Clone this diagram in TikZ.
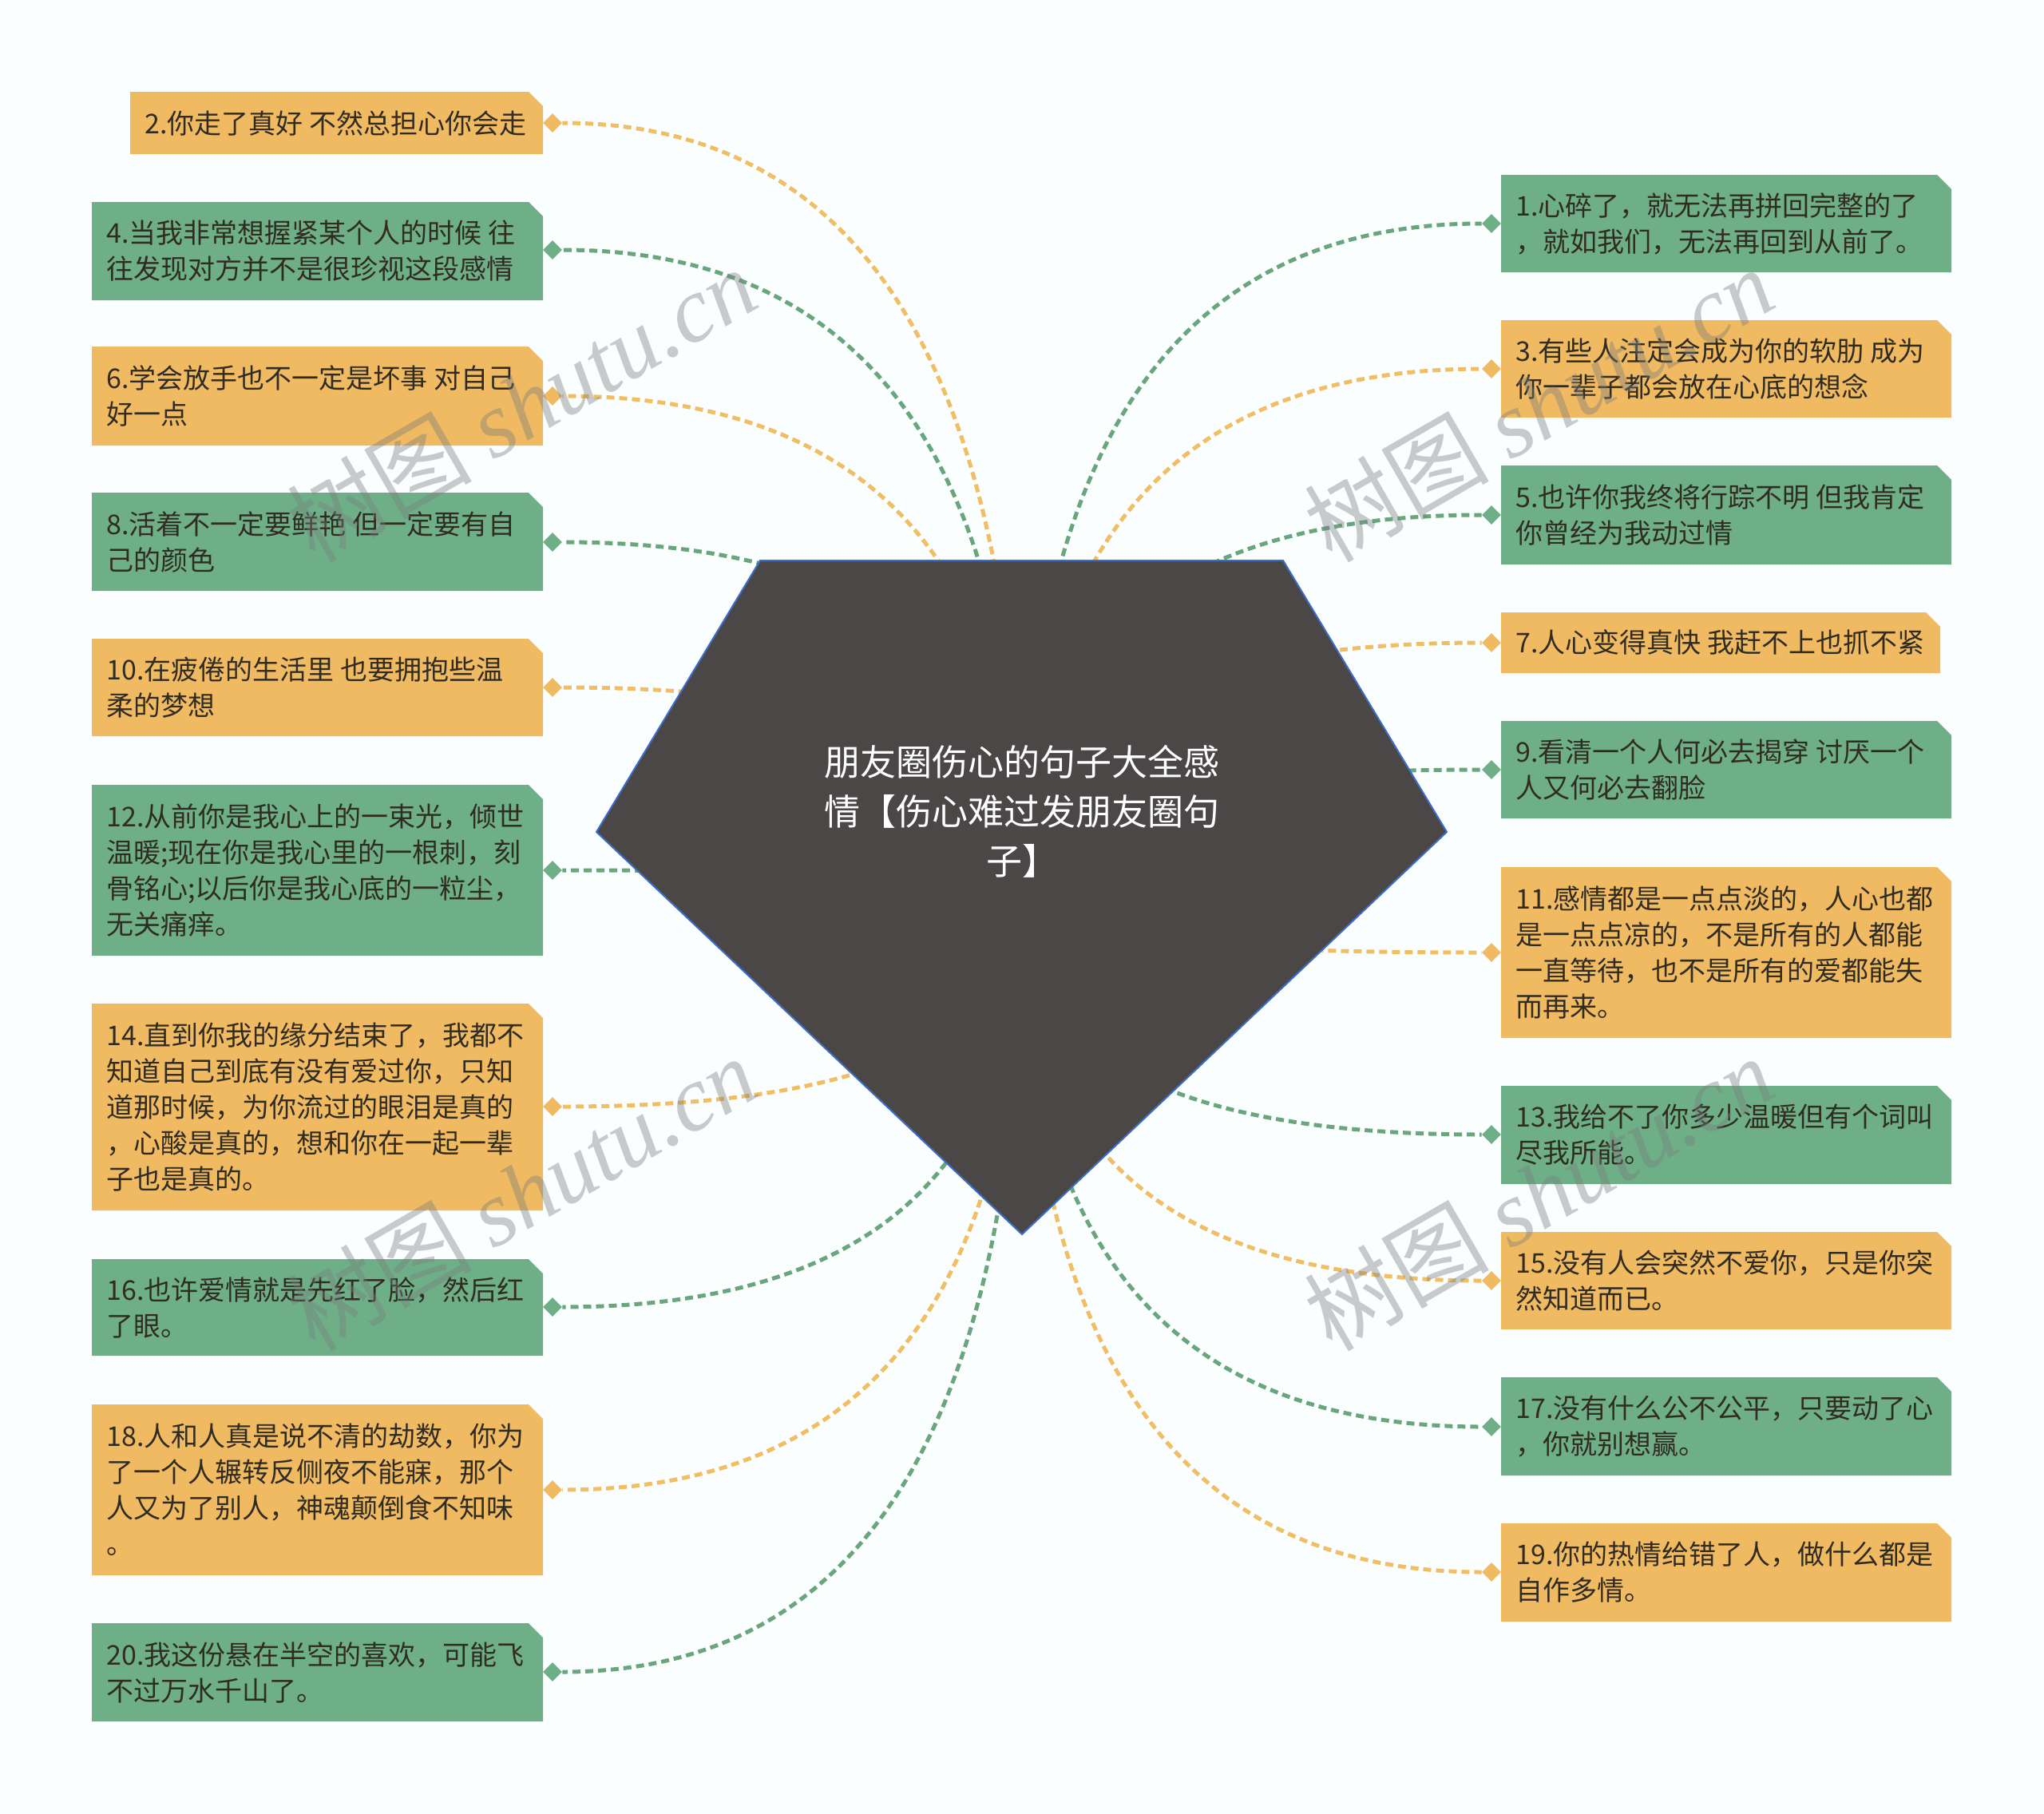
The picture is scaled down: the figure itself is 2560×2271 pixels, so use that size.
\documentclass[tikz,border=0pt]{standalone}
\usepackage{fontspec}
\setmainfont{Noto Sans CJK SC}
\newfontfamily\wmlatin{Liberation Serif}
\newfontfamily\wmcjk{Noto Sans CJK SC}
\usetikzlibrary{shapes.geometric,calc}
\definecolor{bg}{RGB}{250,254,254}
\definecolor{orangebox}{RGB}{240,186,98}
\definecolor{greenbox}{RGB}{110,175,135}
\definecolor{orangeline}{RGB}{240,190,100}
\definecolor{greenline}{RGB}{105,165,125}
\definecolor{hubfill}{RGB}{75,71,71}
\definecolor{hubline}{RGB}{60,110,200}
\definecolor{txt}{RGB}{48,44,34}
\definecolor{wm}{RGB}{120,125,125}
\tikzset{
 boxtext/.style={inner sep=0pt, align=left, text=txt, font=\fontsize{17pt}{22.5pt}\selectfont, anchor=west},
 dmd/.style={diamond, shape aspect=1, inner sep=0pt, minimum width=12pt, minimum height=12pt},
 conn/.style={line width=2.5pt, dash pattern=on 5pt off 3pt},
 wmark/.style={rotate=30, text=wm, opacity=0.4, font=\fontsize{58pt}{58pt}\selectfont},
}
% #1 name, #2 x1, #3 y1, #4 x2, #5 y2, #6 colour, #7 text
\newcommand\qbox[7]{%
  \fill[#6] (#2,#3) -- ({#4-18},#3) -- (#4,{#3+18}) -- (#4,#5) -- (#2,#5) -- cycle;
  \node[boxtext] (#1) at ({#2+18},{(#3+#5)/2}) {#7};
}
\newcommand\conL[2]{\draw[conn,#2] (hub) .. controls ($(hub)!0.6667!(hub|-#1)$) and ($(#1.east)!0.6667!(hub|-#1)$) .. (#1.east);}
\newcommand\conR[2]{\draw[conn,#2] (hub) .. controls ($(hub)!0.6667!(hub|-#1)$) and ($(#1.west)!0.6667!(hub|-#1)$) .. (#1.west);}
\begin{document}
\begin{tikzpicture}[x=0.5pt,y=-0.5pt]
\useasboundingbox (0,0) rectangle (2560,2271);
\fill[bg] (0,0) rectangle (2560,2271);
\coordinate (hub) at (1280,1124);

% diamonds left
\node[dmd,fill=orangebox] (d2) at (692,154) {};
\node[dmd,fill=greenbox] (d4) at (692,313) {};
\node[dmd,fill=orangebox] (d6) at (692,496) {};
\node[dmd,fill=greenbox] (d8) at (692,679) {};
\node[dmd,fill=orangebox] (d10) at (692,861) {};
\node[dmd,fill=greenbox] (d12) at (692,1090) {};
\node[dmd,fill=orangebox] (d14) at (692,1386) {};
\node[dmd,fill=greenbox] (d16) at (692,1637) {};
\node[dmd,fill=orangebox] (d18) at (692,1866) {};
\node[dmd,fill=greenbox] (d20) at (692,2094) {};
% diamonds right
\node[dmd,fill=greenbox] (d1) at (1868,280) {};
\node[dmd,fill=orangebox] (d3) at (1868,462) {};
\node[dmd,fill=greenbox] (d5) at (1868,645) {};
\node[dmd,fill=orangebox] (d7) at (1868,805) {};
\node[dmd,fill=greenbox] (d9) at (1868,964) {};
\node[dmd,fill=orangebox] (d11) at (1868,1193) {};
\node[dmd,fill=greenbox] (d13) at (1868,1421) {};
\node[dmd,fill=orangebox] (d15) at (1868,1604) {};
\node[dmd,fill=greenbox] (d17) at (1868,1787) {};
\node[dmd,fill=orangebox] (d19) at (1868,1969) {};

% connectors
\conL{d2}{orangeline}
\conL{d4}{greenline}
\conL{d6}{orangeline}
\conL{d8}{greenline}
\conL{d10}{orangeline}
\conL{d12}{greenline}
\conL{d14}{orangeline}
\conL{d16}{greenline}
\conL{d18}{orangeline}
\conL{d20}{greenline}
\conR{d1}{greenline}
\conR{d3}{orangeline}
\conR{d5}{greenline}
\conR{d7}{orangeline}
\conR{d9}{greenline}
\conR{d11}{orangeline}
\conR{d13}{greenline}
\conR{d15}{orangeline}
\conR{d17}{greenline}
\conR{d19}{orangeline}

% central pentagon
\filldraw[fill=hubfill, draw=hubline, line width=1pt] (952,702) -- (1607,702) -- (1812,1042) -- (1280,1546) -- (747,1042) -- cycle;
\node[text=white, align=center, inner sep=0pt, font=\fontsize{22.5pt}{31pt}\selectfont] (title) at (1280,1016) {朋友圈伤心的句子大全感\\情【伤心难过发朋友圈句\\子】};

% left boxes
\qbox{b2}{163}{115}{680}{193}{orangebox}{2.你走了真好 不然总担心你会走}
\qbox{b4}{115}{253}{680}{376}{greenbox}{4.当我非常想握紧某个人的时候 往\\往发现对方并不是很珍视这段感情}
\qbox{b6}{115}{434}{680}{558}{orangebox}{6.学会放手也不一定是坏事 对自己\\好一点}
\qbox{b8}{115}{617}{680}{740}{greenbox}{8.活着不一定要鲜艳 但一定要有自\\己的颜色}
\qbox{b10}{115}{800}{680}{922}{orangebox}{10.在疲倦的生活里 也要拥抱些温\\柔的梦想}
\qbox{b12}{115}{983}{680}{1197}{greenbox}{12.从前你是我心上的一束光，倾世\\温暖;现在你是我心里的一根刺，刻\\骨铭心;以后你是我心底的一粒尘，\\无关痛痒。}
\qbox{b14}{115}{1257}{680}{1516}{orangebox}{14.直到你我的缘分结束了，我都不\\知道自己到底有没有爱过你，只知\\道那时候，为你流过的眼泪是真的\\，心酸是真的，想和你在一起一辈\\子也是真的。}
\qbox{b16}{115}{1577}{680}{1698}{greenbox}{16.也许爱情就是先红了脸，然后红\\了眼。}
\qbox{b18}{115}{1759}{680}{1973}{orangebox}{18.人和人真是说不清的劫数，你为\\了一个人辗转反侧夜不能寐，那个\\人又为了别人，神魂颠倒食不知味\\。}
\qbox{b20}{115}{2033}{680}{2156}{greenbox}{20.我这份悬在半空的喜欢，可能飞\\不过万水千山了。}

% right boxes
\qbox{b1}{1880}{219}{2444}{341}{greenbox}{1.心碎了，就无法再拼回完整的了\\，就如我们，无法再回到从前了。}
\qbox{b3}{1880}{401}{2444}{523}{orangebox}{3.有些人注定会成为你的软肋 成为\\你一辈子都会放在心底的想念}
\qbox{b5}{1880}{583}{2444}{707}{greenbox}{5.也许你我终将行踪不明 但我肯定\\你曾经为我动过情}
\qbox{b7}{1880}{767}{2430}{843}{orangebox}{7.人心变得真快 我赶不上也抓不紧}
\qbox{b9}{1880}{903}{2444}{1025}{greenbox}{9.看清一个人何必去揭穿 讨厌一个\\人又何必去翻脸}
\qbox{b11}{1880}{1086}{2444}{1300}{orangebox}{11.感情都是一点点淡的，人心也都\\是一点点凉的，不是所有的人都能\\一直等待，也不是所有的爱都能失\\而再来。}
\qbox{b13}{1880}{1360}{2444}{1483}{greenbox}{13.我给不了你多少温暖但有个词叫\\尽我所能。}
\qbox{b15}{1880}{1543}{2444}{1665}{orangebox}{15.没有人会突然不爱你，只是你突\\然知道而已。}
\qbox{b17}{1880}{1725}{2444}{1848}{greenbox}{17.没有什么公不公平，只要动了心\\，你就别想赢。}
\qbox{b19}{1880}{1908}{2444}{2031}{orangebox}{19.你的热情给错了人，做什么都是\\自作多情。}

% watermarks
\node[wmark] (wm1) at (653,506) {{\wmcjk 树图} {\wmlatin\itshape shutu.cn}};
\node[wmark] (wm2) at (1927,506) {{\wmcjk 树图} {\wmlatin\itshape shutu.cn}};
\node[wmark] (wm3) at (653,1494) {{\wmcjk 树图} {\wmlatin\itshape shutu.cn}};
\node[wmark] (wm4) at (1927,1494) {{\wmcjk 树图} {\wmlatin\itshape shutu.cn}};
\end{tikzpicture}
\end{document}
